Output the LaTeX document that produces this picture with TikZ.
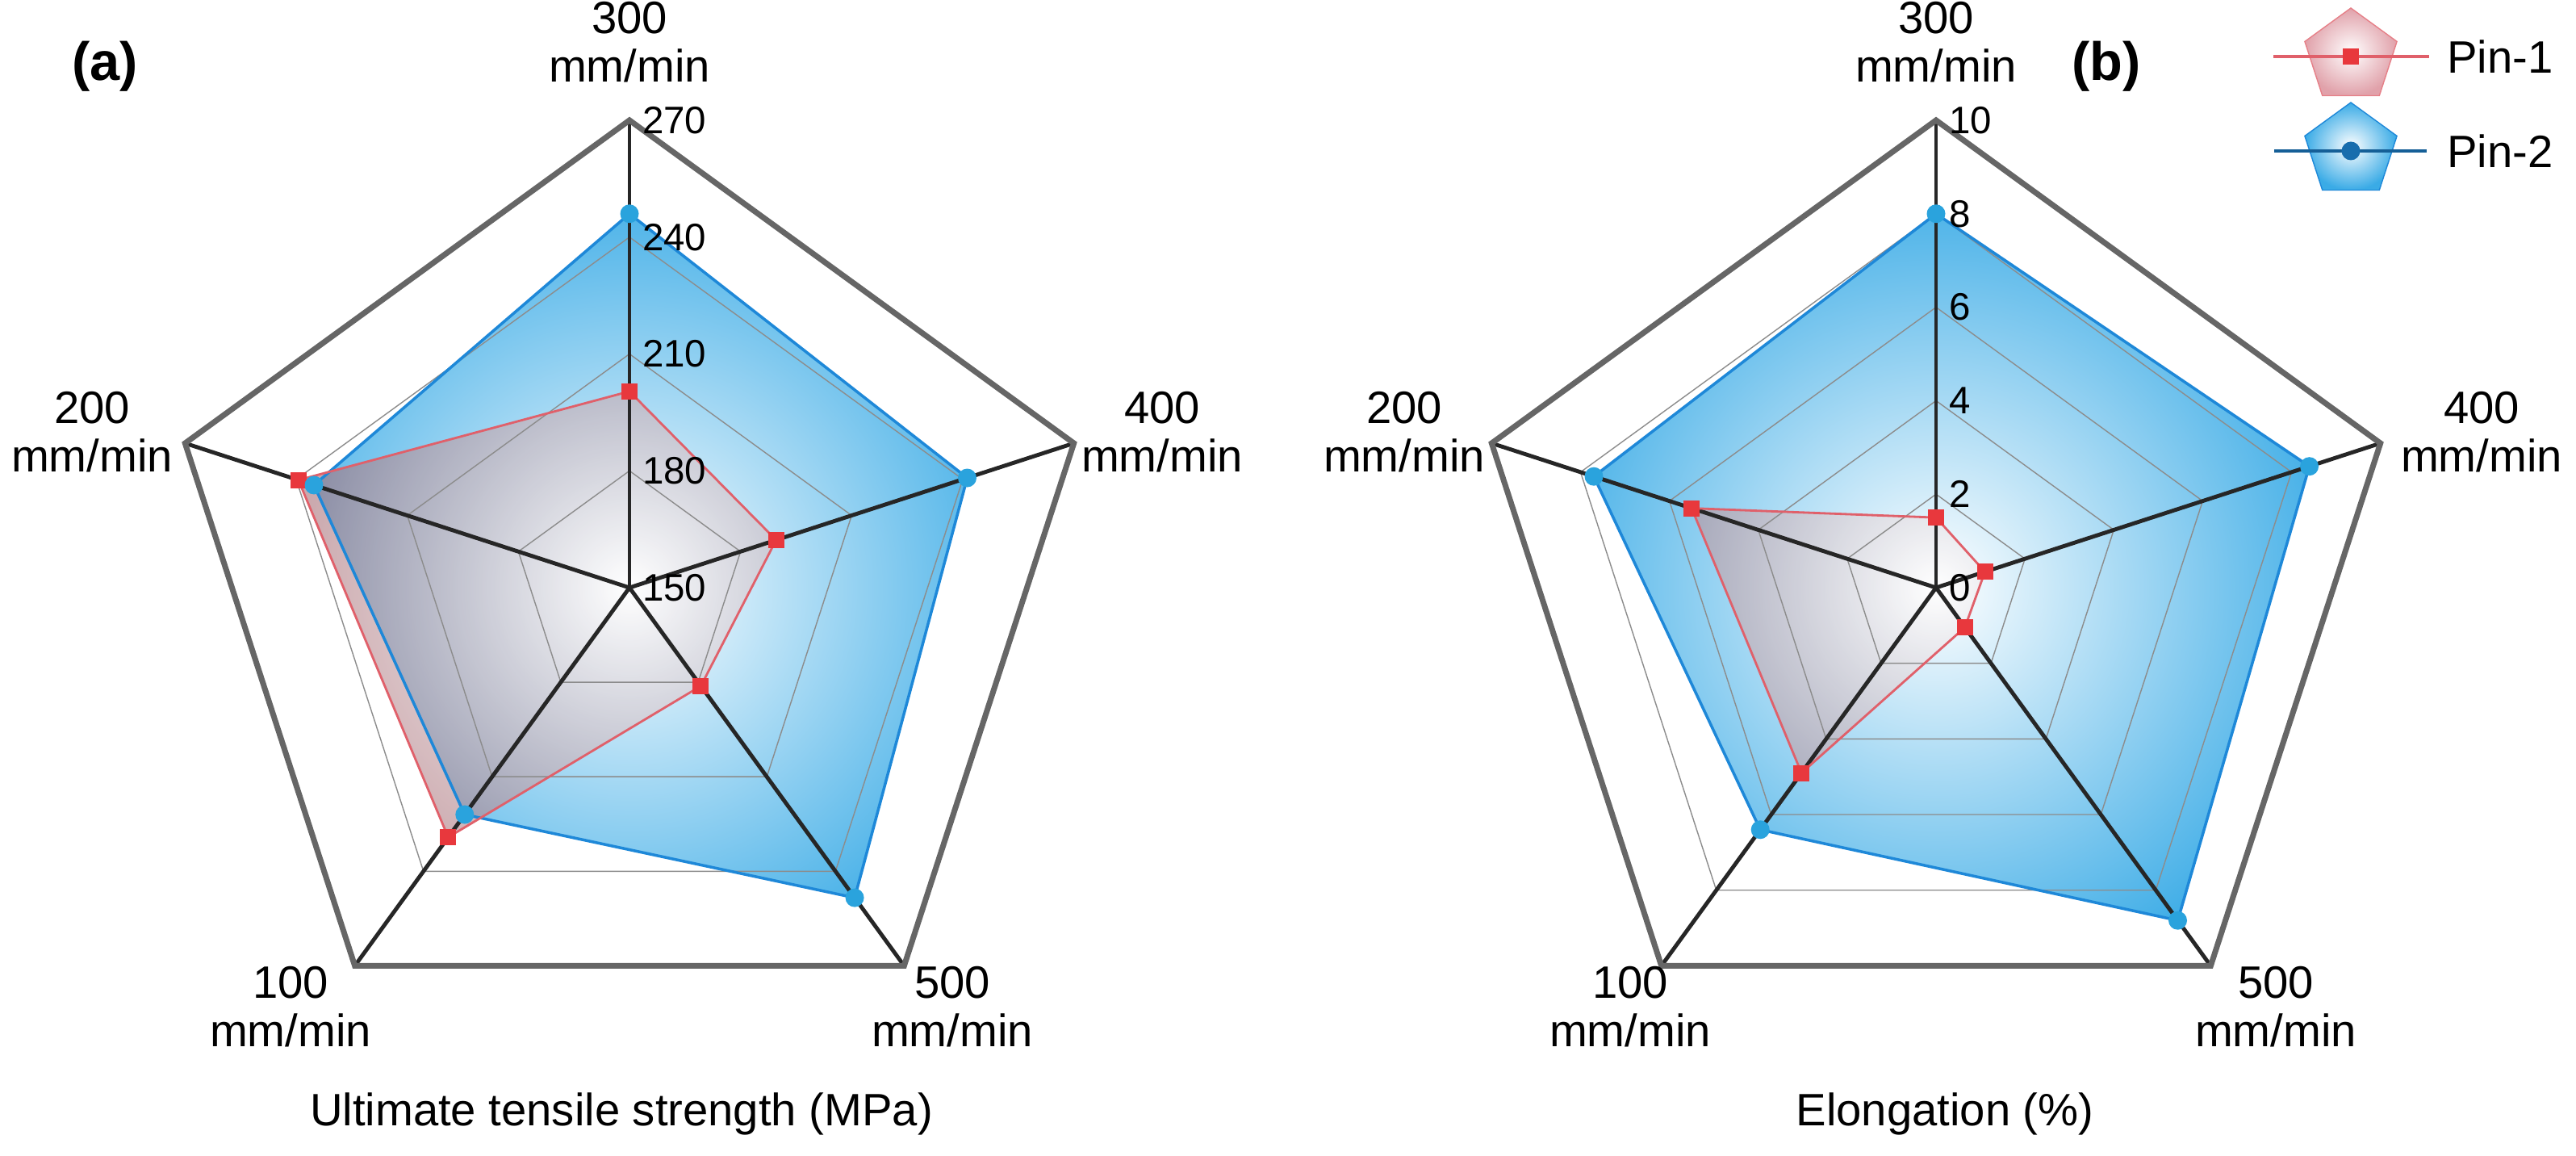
\documentclass[tikz,border=0pt]{standalone}
\usepackage{fontspec}
\setmainfont{Liberation Sans}
\usetikzlibrary{shapes.geometric,calc}

\newcommand\orad{5.79cm}
\definecolor{pinblue}{HTML}{3AABE6}
\definecolor{pinblueline}{HTML}{1E88D8}
\definecolor{pinred}{HTML}{D98A95}
\definecolor{pinredline}{HTML}{E0606A}
\definecolor{mark1}{HTML}{E8383D}
\definecolor{mark2}{HTML}{2AA3DD}

\tikzset{
  outer/.style={draw=black!60, line width=2pt, line join=miter},
  grid/.style={draw=black!45, line width=0.4pt},
  axis/.style={draw=black!85, line width=1.4pt},
  ticklab/.style={font=\fontsize{13.5}{15}\selectfont, anchor=west, inner sep=1pt},
  axlab/.style={font=\fontsize{16}{17}\selectfont, align=center},
  title/.style={font=\fontsize{16}{19}\selectfont},
  panel/.style={font=\fontsize{19}{22}\selectfont\bfseries},
  sq/.style={fill=mark1, minimum size=0.2cm, inner sep=0pt},
  dot/.style={circle, fill=mark2, minimum size=0.23cm, inner sep=0pt},
}

\begin{document}
\begin{tikzpicture}
\useasboundingbox (0,0) rectangle (31.92,14.32);

% Variablen
\def\numAxes{5}

% Panel (a) und (b)
\foreach \cx/\nm/\nt/\ticks/\rings/\redv/\bluev in {
  7.80/a/4/{150,180,210,240,270}/{0.25,0.5,0.75}/{0.42,0.33,0.26,0.66,0.745}/{0.80,0.76,0.82,0.60,0.71},
  23.99/b/5/{0,2,4,6,8,10}/{0.2,0.4,0.6,0.8}/{0.15,0.11,0.105,0.49,0.55}/{0.80,0.84,0.88,0.64,0.77}}{
\begin{scope}[shift={(\cx,7.04)}]
  \coordinate (\nm0) at (0,0);
  \foreach \i in {1,...,\numAxes}
    \coordinate (\nm O\i) at ({90-72*(\i-1)}:\orad);
  \foreach \v [count=\i] in \redv
    \coordinate (\nm R\i) at ({90-72*(\i-1)}:\v*\orad);
  \foreach \v [count=\i] in \bluev
    \coordinate (\nm B\i) at ({90-72*(\i-1)}:\v*\orad);
  % Flaechen
  \begin{scope}
    \clip (\nm B1) -- (\nm B2) -- (\nm B3) -- (\nm B4) -- (\nm B5) -- cycle;
    \shade[inner color=white, outer color=pinblue] (\nm0) circle (0.9*\orad);
  \end{scope}
  \begin{scope}
    \clip (\nm R1) -- (\nm R2) -- (\nm R3) -- (\nm R4) -- (\nm R5) -- cycle;
    \shade[inner color=white, outer color=pinred!75!black, opacity=0.6] (\nm0) circle (0.75*\orad);
  \end{scope}
  % Gitter
  \foreach \f in \rings
    \draw[grid] ($(\nm0)!\f!(\nm O1)$) -- ($(\nm0)!\f!(\nm O2)$) -- ($(\nm0)!\f!(\nm O3)$)
      -- ($(\nm0)!\f!(\nm O4)$) -- ($(\nm0)!\f!(\nm O5)$) -- cycle;
  \foreach \i in {1,...,\numAxes}
    \draw[axis] (\nm0) -- (\nm O\i);
  \draw[outer] (\nm O1) -- (\nm O2) -- (\nm O3) -- (\nm O4) -- (\nm O5) -- cycle;
  % Linien
  \draw[pinblueline, line width=1pt] (\nm B1) -- (\nm B2) -- (\nm B3) -- (\nm B4) -- (\nm B5) -- cycle;
  \draw[pinredline, line width=0.8pt] (\nm R1) -- (\nm R2) -- (\nm R3) -- (\nm R4) -- (\nm R5) -- cycle;
  \foreach \i in {1,...,\numAxes}{
    \node[sq] at (\nm R\i) {};
    \node[dot] at (\nm B\i) {};
  }
  % Skala
  \foreach \t [count=\k from 0] in \ticks
    \node[ticklab] (\nm T\k) at ($(\nm0)!{\k/\nt}!(\nm O1)+(0.12,0)$) {\t};
\end{scope}}

% Achsen (a)
\node[axlab] (a300) at (7.80,13.80) {300\\mm/min};
\node[axlab] (a400) at (14.40,8.97) {400\\mm/min};
\node[axlab] (a500) at (11.80,1.85) {500\\mm/min};
\node[axlab] (a100) at (3.60,1.85) {100\\mm/min};
\node[axlab] (a200) at (1.14,8.97) {200\\mm/min};
\node[title] (atitle) at (7.70,0.52) {Ultimate tensile strength (MPa)};
\node[panel] (alab) at (1.30,13.50) {(a)};

% Achsen (b)
\node[axlab] (b300) at (23.99,13.80) {300\\mm/min};
\node[axlab] (b400) at (30.75,8.97) {400\\mm/min};
\node[axlab] (b500) at (28.20,1.85) {500\\mm/min};
\node[axlab] (b100) at (20.20,1.85) {100\\mm/min};
\node[axlab] (b200) at (17.40,8.97) {200\\mm/min};
\node[title] (btitle) at (24.10,0.52) {Elongation (\%)};
\node[panel] (blab) at (26.10,13.50) {(b)};

% Legende
\node[regular polygon, regular polygon sides=5, minimum size=1.2cm, inner sep=0pt,
  draw=pinredline!80, shading=radial, inner color=white, outer color=pinred!80] (leg1) at (29.13,13.62) {};
\draw[pinredline, line width=1.2pt] (28.17,13.62) coordinate (l1a) -- (30.10,13.62) coordinate (l1b);
\node[sq] (m1) at (leg1.center) {};
\node[axlab, anchor=west] (t1) at (30.20,13.62) {Pin-1};
\node[regular polygon, regular polygon sides=5, minimum size=1.2cm, inner sep=0pt,
  draw=pinblueline, shading=radial, inner color=white, outer color=pinblue] (leg2) at (29.13,12.45) {};
\draw[pinblueline!70!black, line width=1.2pt] (28.18,12.45) coordinate (l2a) -- (30.07,12.45) coordinate (l2b);
\node[dot, fill=pinblueline!80!black] (m2) at (leg2.center) {};
\node[axlab, anchor=west] (t2) at (30.20,12.45) {Pin-2};

\end{tikzpicture}
\end{document}
